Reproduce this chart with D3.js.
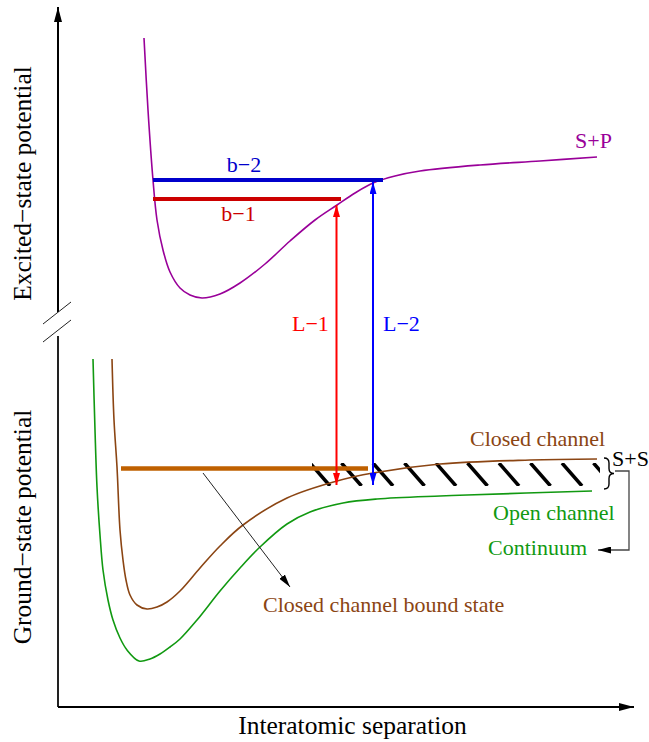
<!DOCTYPE html>
<html>
<head>
<meta charset="utf-8">
<script src="https://cdn.jsdelivr.net/npm/d3@7"></script>
<style>
body{margin:0;background:#fff}
text{font-family:"Liberation Serif","Times New Roman",serif}
</style>
</head>
<body>
<svg id="chart" width="649" height="742"></svg>
<script>
// potential curves, [separation, energy] in arbitrary units
var excited=[[17.2,54.4],[18.0,40.0],[19.0,26.0],[19.8,18.0],[21.0,12.0],[22.4,7.6],[24.4,4.4],[26.4,3.0],[28.8,2.4],
  [32.4,3.2],[36.4,5.4],[41.4,9.2],[46.4,13.8],[51.4,18.0],[55.8,21.0],[59.4,23.4],[63.0,25.4],[67.4,26.8],[72.4,27.8],
  [84.4,29.0],[96.4,29.8],[107.8,30.6]];
var closedCh=[[10.8,69.2],[11.2,57.0],[11.8,47.6],[12.4,35.0],[13.0,29.0],[13.6,25.0],[14.4,22.0],[15.8,20.0],[17.8,19.2],
  [19.8,19.6],[21.8,20.6],[24.4,22.8],[28.4,27.4],[32.4,31.8],[37.0,36.0],[45.8,41.4],[55.8,44.8],[63.0,46.4],[76.4,48.2],
  [94.4,49.0],[107.8,49.2]];
var openCh=[[7.0,69.2],[7.4,55.0],[7.8,43.6],[8.4,34.0],[9.0,27.0],[10.0,21.0],[11.0,17.0],[12.4,13.4],[13.8,11.0],[16.2,8.8],
  [18.4,9.2],[20.4,10.2],[22.4,11.6],[24.4,13.2],[27.8,17.0],[32.4,22.8],[36.4,27.4],[40.4,31.6],[45.8,36.2],[50.4,38.6],
  [57.0,40.4],[63.8,41.2],[76.4,41.8],[81.8,42.0],[106.8,42.8]];

// excited bound levels
var levelNames=["b\u22122","b\u22121"];
var levelStart=[19.0,19.0];
var levelEnd=[65.0,56.6];
var levelEnergy=[26.0,22.2];
var levelColors=["#0000cc","#cc0000"];
var levelLabelX=[37.2,36.1];
var levelLabelE=[27.6,17.8];

// closed channel bound state
var boundStart=12.6, boundEnd=62.0, boundEnergy=47.3;

// laser transitions
var laserNames=["L\u22121","L\u22122"];
var laserX=[55.7,63.0];
var laserLow=[44.0,44.0];
var laserHigh=[21.0,25.6];
var laserColors=["#ff0000","#0000ff"];
var laserLabelX=[46.8,65.0];
var laserLabelE=74.8;

// hatched continuum band
var hatchTops=[50.4,56.7,63.0,69.3,75.6,81.9,88.2,94.5,100.8,107.1];
var hatchTop=48.4, hatchBottom=43.8, hatchSlant=4.0, hatchLeft=50.8, hatchRight=108.4;

var purple="#990099", brown="#8b4513", green="#119911";

var svg=d3.select("#chart");
var x=d3.scaleLinear().domain([0,115]).range([58,633]);
var yE=d3.scaleLinear().domain([0,60]).range([310,10]);
var yG=d3.scaleLinear().domain([0,74]).range([705,335]);

var defs=svg.append("defs");
function marker(id,color,len,wid){
  defs.append("marker").attr("id",id).attr("markerUnits","userSpaceOnUse")
    .attr("viewBox","0 0 "+len+" "+wid).attr("refX",len).attr("refY",wid/2)
    .attr("markerWidth",len).attr("markerHeight",wid).attr("orient","auto-start-reverse")
    .append("path").attr("d","M0,0L"+len+","+wid/2+"L0,"+wid+"Z").attr("fill",color);
}
marker("axisHead","#000",15,8);
marker("redHead","#ff0000",12,7);
marker("blueHead","#0000ff",12,7);
marker("blackHead","#000",13,7);

// axes
var axisY0=yG(-0.4);
svg.append("line").attr("x1",x(0)).attr("x2",x(0)).attr("y1",axisY0).attr("y2",yG(73.8)).attr("stroke","#222").attr("stroke-width",2);
svg.append("line").attr("x1",x(0)).attr("x2",x(0)).attr("y1",yE(-0.4)).attr("y2",yE(60.6)).attr("stroke","#000").attr("stroke-width",2).attr("marker-end","url(#axisHead)");
svg.append("line").attr("x1",x(0)).attr("x2",x(115.2)).attr("y1",axisY0).attr("y2",axisY0).attr("stroke","#000").attr("stroke-width",2).attr("marker-end","url(#axisHead)");
// axis break
var brk=(yE(-0.4)+yG(73.8))/2;
[-11,7].forEach(function(o){
  svg.append("line").attr("x1",x(0)-15).attr("x2",x(0)+13).attr("y1",brk+o+11).attr("y2",brk+o-11).attr("stroke","#222").attr("stroke-width",1);
});

svg.append("text").attr("transform","translate(31,"+yE(25.3)+") rotate(-90)").attr("text-anchor","middle").attr("font-size",25.5).text("Excited\u2212state potential");
svg.append("text").attr("transform","translate(31,"+yG(35.6)+") rotate(-90)").attr("text-anchor","middle").attr("font-size",25.5).text("Ground\u2212state potential");
svg.append("text").attr("x",(x(0)+x(115))/2+7).attr("y",734).attr("text-anchor","middle").attr("font-size",25.5).text("Interatomic separation");

// hatch
defs.append("clipPath").attr("id","hatchClip").append("rect")
  .attr("x",x(hatchLeft)).attr("y",yG(hatchTop)).attr("width",x(hatchRight)-x(hatchLeft)).attr("height",yG(hatchBottom)-yG(hatchTop));
svg.append("g").attr("clip-path","url(#hatchClip)").selectAll("line").data(hatchTops).join("line")
  .attr("x1",function(d){return x(d);}).attr("y1",yG(hatchTop))
  .attr("x2",function(d){return x(d+hatchSlant);}).attr("y2",yG(hatchBottom))
  .attr("stroke","#000").attr("stroke-width",3.5);

// curves
var lineE=d3.line().x(function(d){return x(d[0]);}).y(function(d){return yE(d[1]);}).curve(d3.curveCatmullRom.alpha(0.5));
var lineG=d3.line().x(function(d){return x(d[0]);}).y(function(d){return yG(d[1]);}).curve(d3.curveCatmullRom.alpha(0.5));
svg.append("path").attr("d",lineE(excited)).attr("fill","none").attr("stroke",purple).attr("stroke-width",1.6);
svg.append("path").attr("d",lineG(closedCh)).attr("fill","none").attr("stroke",brown).attr("stroke-width",1.6);
svg.append("path").attr("d",lineG(openCh)).attr("fill","none").attr("stroke",green).attr("stroke-width",1.6);

// excited levels
svg.selectAll(".lvl").data(levelNames).join("line").attr("class","lvl")
  .attr("x1",function(d,i){return x(levelStart[i]);}).attr("x2",function(d,i){return x(levelEnd[i]);})
  .attr("y1",function(d,i){return yE(levelEnergy[i]);}).attr("y2",function(d,i){return yE(levelEnergy[i]);})
  .attr("stroke",function(d,i){return levelColors[i];}).attr("stroke-width",4);
svg.selectAll(".lvlt").data(levelNames).join("text").attr("class","lvlt")
  .attr("x",function(d,i){return x(levelLabelX[i]);}).attr("y",function(d,i){return yE(levelLabelE[i]);})
  .attr("text-anchor","middle").attr("font-size",22).attr("fill",function(d,i){return levelColors[i];}).text(function(d){return d;});

// bound state
svg.append("line").attr("x1",x(boundStart)).attr("x2",x(boundEnd)).attr("y1",yG(boundEnergy)).attr("y2",yG(boundEnergy))
  .attr("stroke","#bf6000").attr("stroke-width",4.5);

// lasers
svg.selectAll(".las").data(laserNames).join("line").attr("class","las")
  .attr("x1",function(d,i){return x(laserX[i]);}).attr("x2",function(d,i){return x(laserX[i]);})
  .attr("y1",function(d,i){return yG(laserLow[i]);}).attr("y2",function(d,i){return yE(laserHigh[i]);})
  .attr("stroke",function(d,i){return laserColors[i];}).attr("stroke-width",2)
  .attr("marker-start",function(d,i){return i?"url(#blueHead)":"url(#redHead)";})
  .attr("marker-end",function(d,i){return i?"url(#blueHead)":"url(#redHead)";});
svg.selectAll(".last").data(laserNames).join("text").attr("class","last")
  .attr("x",function(d,i){return x(laserLabelX[i]);}).attr("y",yG(laserLabelE))
  .attr("font-size",22).attr("fill",function(d,i){return laserColors[i];}).text(function(d){return d;});

// pointer to bound state label
svg.append("line").attr("x1",x(29.0)).attr("y1",yG(46.4)).attr("x2",x(46.4)).attr("y2",yG(23.6))
  .attr("stroke","#222").attr("stroke-width",1).attr("marker-end","url(#blackHead)");

// brace and connector to continuum
var bx0=x(109.2), btip=x(111.2), bm=(bx0+btip)/2, bt=yG(49.4), bb=yG(43.2), bmid=(bt+bb)/2, r=5;
var p=d3.path();
p.moveTo(bx0,bt); p.quadraticCurveTo(bm,bt,bm,bt+r); p.lineTo(bm,bmid-r); p.quadraticCurveTo(bm,bmid,btip,bmid);
p.quadraticCurveTo(bm,bmid,bm,bmid+r); p.lineTo(bm,bb-r); p.quadraticCurveTo(bm,bb,bx0,bb);
svg.append("path").attr("d",p.toString()).attr("fill","none").attr("stroke","#000").attr("stroke-width",1.4);
svg.append("path").attr("d",d3.line()([[x(111.4),yG(46.8)],[x(114.2),yG(46.8)],[x(114.2),yG(31.0)],[x(108.0),yG(31.0)]]))
  .attr("fill","none").attr("stroke","#444").attr("stroke-width",1.3).attr("marker-end","url(#blackHead)");

// labels
var labels=[
  {t:"S+P",u:103.4,e:32.4,s:"E",c:purple},
  {t:"Closed channel",u:82.4,e:51.8,s:"G",c:brown},
  {t:"S+S",u:110.8,e:47.8,s:"G",c:"#000"},
  {t:"Open channel",u:87.0,e:37.0,s:"G",c:green},
  {t:"Continuum",u:86.0,e:30.0,s:"G",c:green},
  {t:"Closed channel bound state",u:41.0,e:18.6,s:"G",c:brown}
];
svg.selectAll(".lab").data(labels).join("text").attr("class","lab")
  .attr("x",function(d){return x(d.u);}).attr("y",function(d){return d.s=="E"?yE(d.e):yG(d.e);})
  .attr("font-size",22).attr("fill",function(d){return d.c;}).text(function(d){return d.t;});
</script>
</body>
</html>
